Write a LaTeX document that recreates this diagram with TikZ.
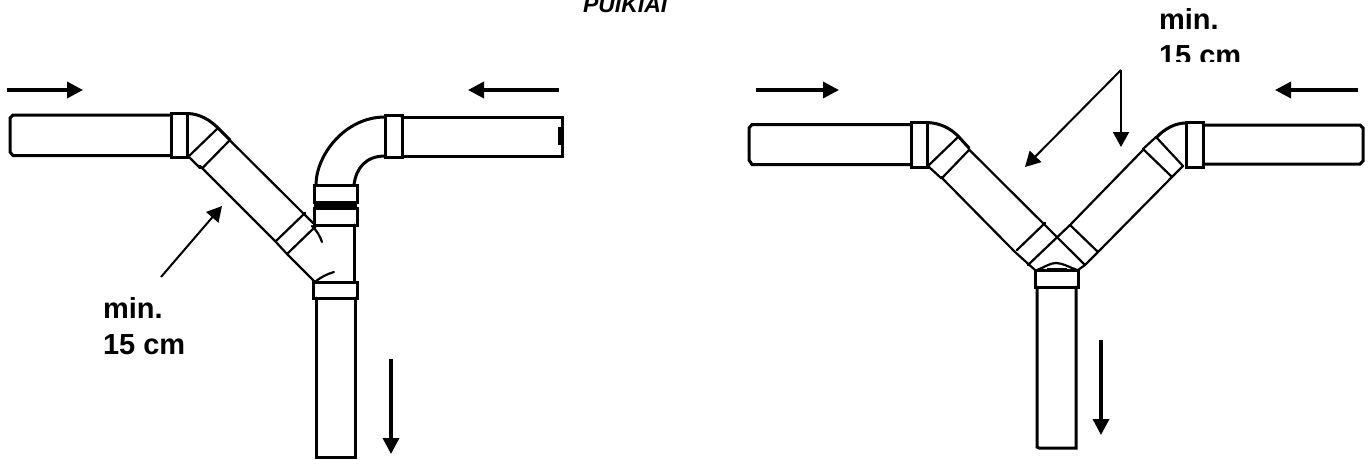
\documentclass[tikz,border=0pt]{standalone}
\usepackage{fontspec}
\setmainfont{Liberation Sans}
\usetikzlibrary{arrows.meta}
\tikzset{
  pipe/.style={line width=3pt,line join=miter,line cap=round,black},
  pipethin/.style={line width=2.2pt,line join=miter,line cap=round,black},
  flow/.style={line width=3.4pt,-{Triangle[length=16pt,width=16pt]}},
  pointer/.style={line width=2pt,-{Triangle[length=15pt,width=16pt]}},
  lbl/.style={font=\fontsize{29}{33}\selectfont\bfseries,anchor=base west,inner sep=0pt,outer sep=0pt},
  ttl/.style={font=\fontsize{23}{27}\selectfont\bfseries\itshape,anchor=base west,inner sep=0pt,outer sep=0pt}
}
\begin{document}
\begin{tikzpicture}[x=1pt,y=-1pt]
\useasboundingbox (0,0) rectangle (1371,460);
\clip (0,0) rectangle (1371,460);

% title (cut off by the page top)
\node[ttl] (title) at (583,13) {PUIKIAI};

% ---------- left figure ----------
% left pipe
\draw[pipe] (171,115) -- (13,115) -- (10,118) -- (10,152) -- (13,155.5) -- (171,155.5);
\draw[pipe] (171.5,113) rectangle (187.5,157);
% elbow
\draw[pipe] (188,113.5) .. controls (200,114) and (210,120) .. (218,128) -- (230,140);
\draw[pipethin] (189,156) -- (217,129);
\draw[pipethin] (203,167.5) -- (229.5,140.5);
\draw[pipethin] (189,157) -- (200,168);
% straight diagonal
\draw[pipethin] (230,140.5) -- (313,223);
\draw[pipethin] (200,166) -- (275,241);
% collar on the tee
\draw[pipethin] (276,241) -- (305,213);
\draw[pipethin] (287,254) -- (316,226);
\draw[pipethin] (275,241) -- (287,254) -- (315,282);
\draw[pipethin] (312,226) .. controls (317,231) and (320,236) .. (322,242);
\draw[pipethin] (315,282) .. controls (321,277) and (327,274) .. (334,272);
% vertical branch
\draw[pipe] (314,185.5) rectangle (357,202);
\draw[line width=6pt] (314,205.5) -- (357,205.5);
\draw[pipe] (314,208) rectangle (357,225);
\draw[pipe] (354.5,225) -- (354.5,282);
\draw[pipe] (313.5,282) rectangle (357,298);
\draw[pipe] (316,298) -- (316,457) -- (355,457) -- (355,298);
% top elbow
\draw[pipe] (316,185) .. controls (316,155) and (345,117) .. (385,117);
\draw[pipe] (354,185) .. controls (356,168) and (366,156) .. (385,156);
\draw[pipe] (385.5,115) rectangle (402,157);
\draw[pipe] (402,117) -- (562,117) -- (562,156) -- (402,156);
\draw[line width=3pt] (559,127) -- (559,145);

% flow arrows, left figure
\coordinate (a1s) at (7,90);   \coordinate (a1e) at (83,90);
\coordinate (a2s) at (559,90); \coordinate (a2e) at (468,90);
\coordinate (a3s) at (391,359);\coordinate (a3e) at (391,454);
\draw[flow] (a1s) -- (a1e);
\draw[flow] (a2s) -- (a2e);
\draw[flow] (a3s) -- (a3e);
\coordinate (p1s) at (161,277);\coordinate (p1e) at (222,206);
\draw[pointer] (p1s) -- (p1e);
\node[lbl] (minL) at (103,318) {min.};
\node[lbl] (cmL) at (103,354) {15 cm};

% ---------- right figure ----------
% left pipe
\draw[pipe] (911,124.5) -- (752,124.5) -- (749,128) -- (749,160) -- (752,164.5) -- (911,164.5);
\draw[pipe] (911,122) rectangle (927,167);
% left elbow
\draw[pipe] (927,122.5) .. controls (940,123) and (950,128) .. (958,136) -- (969,148);
\draw[pipethin] (929,165) -- (957,138);
\draw[pipethin] (943,177) -- (969,150);
\draw[pipethin] (929,167) -- (941,178);
% left diagonal
\draw[pipethin] (969,149.5) -- (1085,265);
\draw[pipethin] (941,177) -- (1015,252) -- (1035,270);
\draw[pipethin] (1017,250) -- (1045,223);
% right diagonal
\draw[pipethin] (1028,265) -- (1070,225);
\draw[pipethin] (1071,224) -- (1143,150);
\draw[pipethin] (1070,225) -- (1098,252);
\draw[pipethin] (1085,265) -- (1098,252) -- (1172,177);
\draw[pipethin] (1085,265) -- (1078,270);
% right elbow
\draw[pipethin] (1143,149) -- (1172,177);
\draw[pipethin] (1156,137) -- (1183,166);
\draw[pipethin] (1143,149) -- (1156,137);
\draw[pipethin] (1172,177) -- (1183,166);
\draw[pipe] (1156,138) .. controls (1164,129) and (1175,123) .. (1186,123);
\draw[pipe] (1186.5,122) rectangle (1203,167);
\draw[pipe] (1203,125) -- (1360,125) -- (1363,128) -- (1363,161) -- (1360,164) -- (1203,164);
% junction
\draw[pipethin] (1037,270) .. controls (1045,267) and (1050,263) .. (1056,263) .. controls (1062,263) and (1069,267) .. (1077,270);
\draw[line width=1.5pt] (1047,268.5) -- (1067,268.5);
\draw[pipe] (1035,270.5) rectangle (1078,287);
\draw[pipe] (1037,287) -- (1037,447) -- (1039,448) -- (1076,448) -- (1076,287);

% flow arrows, right figure
\coordinate (b1s) at (756,90);  \coordinate (b1e) at (839,90);
\coordinate (b2s) at (1358,90); \coordinate (b2e) at (1275,90);
\coordinate (b3s) at (1101,340);\coordinate (b3e) at (1101,435);
\draw[flow] (b1s) -- (b1e);
\draw[flow] (b2s) -- (b2e);
\draw[flow] (b3s) -- (b3e);
% pointers
\coordinate (apex) at (1121,70);
\coordinate (p2e) at (1121,147);
\coordinate (p3e) at (1025,167);
\draw[pointer] (apex) -- (p2e);
\draw[pointer] (apex) -- (p3e);

\node[lbl] (minR) at (1159,30) {min.};
\begin{scope}
\clip (1150,40) rectangle (1260,62);
\node[lbl] (cmR) at (1159,66) {15 cm};
\end{scope}
\end{tikzpicture}
\end{document}
